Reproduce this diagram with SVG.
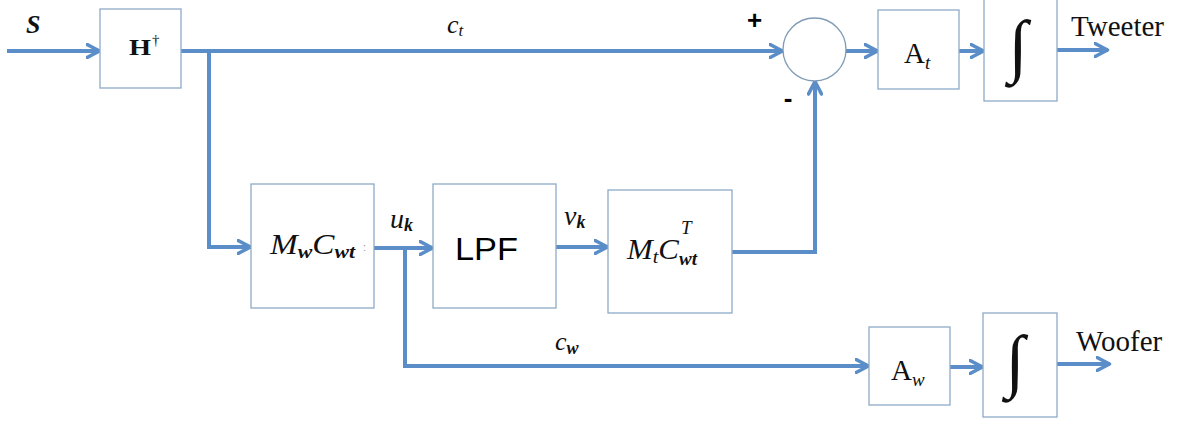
<svg xmlns="http://www.w3.org/2000/svg" width="1180" height="423" viewBox="0 0 1180 423">
<defs>
<marker id="arr" viewBox="0 0 16 16" refX="14.5" refY="8" markerWidth="16" markerHeight="16" markerUnits="userSpaceOnUse" orient="auto">
<path d="M1.5,1.5 L14,8 L1.5,14.5" fill="none" stroke="#5b8ec8" stroke-width="3.6" stroke-linecap="round" stroke-linejoin="round"/>
</marker>
<style>
.box{fill:#fff;stroke:#8eaac6;stroke-width:1.3}
.wire{fill:none;stroke:#5b8ec8;stroke-width:4}
.arrow{marker-end:url(#arr)}
.serif{font-family:"Liberation Serif","Times New Roman",serif;fill:#111}
.math{font-family:"Liberation Serif","Times New Roman",serif;font-style:italic;fill:#111}
.sans{font-family:"Liberation Sans",Arial,sans-serif;fill:#000}
.integral{font-family:"Liberation Serif","Times New Roman",serif;font-style:italic;fill:#111}
</style>
</defs>
<rect width="1180" height="423" fill="#fff"/>

<g id="connectors">
<path class="wire arrow" d="M7,51 H100"/>
<path class="wire arrow" d="M181,51 H783"/>
<path class="wire arrow" d="M209,51 V247 H251"/>
<path class="wire arrow" d="M374,248 H433"/>
<path class="wire arrow" d="M405,248 V366 H869"/>
<path class="wire arrow" d="M556,247 H608"/>
<path class="wire arrow" d="M732,252 H815 V81"/>
<path class="wire arrow" d="M846,51 H878"/>
<path class="wire arrow" d="M959,51 H984"/>
<path class="wire arrow" d="M1057,50 H1108"/>
<path class="wire arrow" d="M950,367 H983"/>
<path class="wire arrow" d="M1057,364 H1110"/>
</g>

<g id="labels">
<text class="math" x="26" y="33" font-size="26" font-weight="bold">S</text>
<text class="math" x="447" y="33" font-size="26">c<tspan font-size="17" dy="3">t</tspan></text>
<text class="math" x="390" y="228" font-size="28">u<tspan font-size="18" dy="3" font-weight="bold">k</tspan></text>
<text class="math" x="564" y="225" font-size="28">v<tspan font-size="18" dy="3" font-weight="bold">k</tspan></text>
<text class="math" x="555" y="350" font-size="26">c<tspan font-size="18" dy="4" font-weight="bold">w</tspan></text>
<text class="sans" x="754.5" y="29" font-size="26" font-weight="bold" text-anchor="middle">+</text>
<text class="sans" x="788" y="107" font-size="26" font-weight="bold" text-anchor="middle">-</text>
<text class="serif" x="1071" y="36" font-size="29">Tweeter</text>
<text class="serif" x="1076" y="351" font-size="29">Woofer</text>
</g>

<g id="node-H">
<rect class="box" x="100" y="9" width="81" height="79"/>
<text class="serif" x="129" y="55" font-size="24" font-weight="bold" textLength="22" lengthAdjust="spacingAndGlyphs">H</text>
<text class="serif" x="152" y="45" font-size="15">†</text>
</g>

<g id="node-MwCwt">
<rect class="box" x="251" y="184" width="123" height="124"/>
<text class="math" x="270" y="254" font-size="29" textLength="85" lengthAdjust="spacingAndGlyphs">M<tspan font-size="19" dy="4" font-weight="bold">w</tspan><tspan dy="-4">C</tspan><tspan font-size="19" dy="4" font-weight="bold">wt</tspan></text>
<text class="sans" x="363" y="251" font-size="11" style="fill:#999">:</text>
</g>

<g id="node-LPF">
<rect class="box" x="433" y="184" width="123" height="124"/>
<text class="sans" x="455" y="260" font-size="31" textLength="63" lengthAdjust="spacingAndGlyphs">LPF</text>
</g>

<g id="node-MtCwtT">
<rect class="box" x="608" y="190" width="124" height="123"/>
<text class="math" x="627" y="259" font-size="29" textLength="52" lengthAdjust="spacingAndGlyphs">M<tspan font-size="19" dy="4">t</tspan><tspan dy="-4">C</tspan></text>
<text class="math" x="681" y="234" font-size="19">T</text>
<text class="math" x="679" y="265" font-size="19" font-weight="bold">wt</text>
</g>

<g id="node-sum">
<circle cx="814.5" cy="49.5" r="31.5" fill="#fff" stroke="#7f9bb5" stroke-width="1.3"/>
</g>

<g id="node-At">
<rect class="box" x="878" y="10" width="81" height="79"/>
<text class="serif" x="904" y="63" font-size="29">A<tspan font-style="italic" font-size="19" dy="6">t</tspan></text>
</g>

<g id="node-int-t">
<rect class="box" x="984" y="-2" width="73" height="103"/>
<text class="integral" x="1018" y="69" font-size="70" text-anchor="middle">∫</text>
</g>

<g id="node-Aw">
<rect class="box" x="869" y="327" width="81" height="78"/>
<text class="serif" x="891" y="380" font-size="29">A<tspan font-style="italic" font-size="19" dy="6">w</tspan></text>
</g>

<g id="node-int-w">
<rect class="box" x="983" y="313" width="74" height="104"/>
<text class="integral" x="1015" y="384" font-size="70" text-anchor="middle">∫</text>
</g>
</svg>
